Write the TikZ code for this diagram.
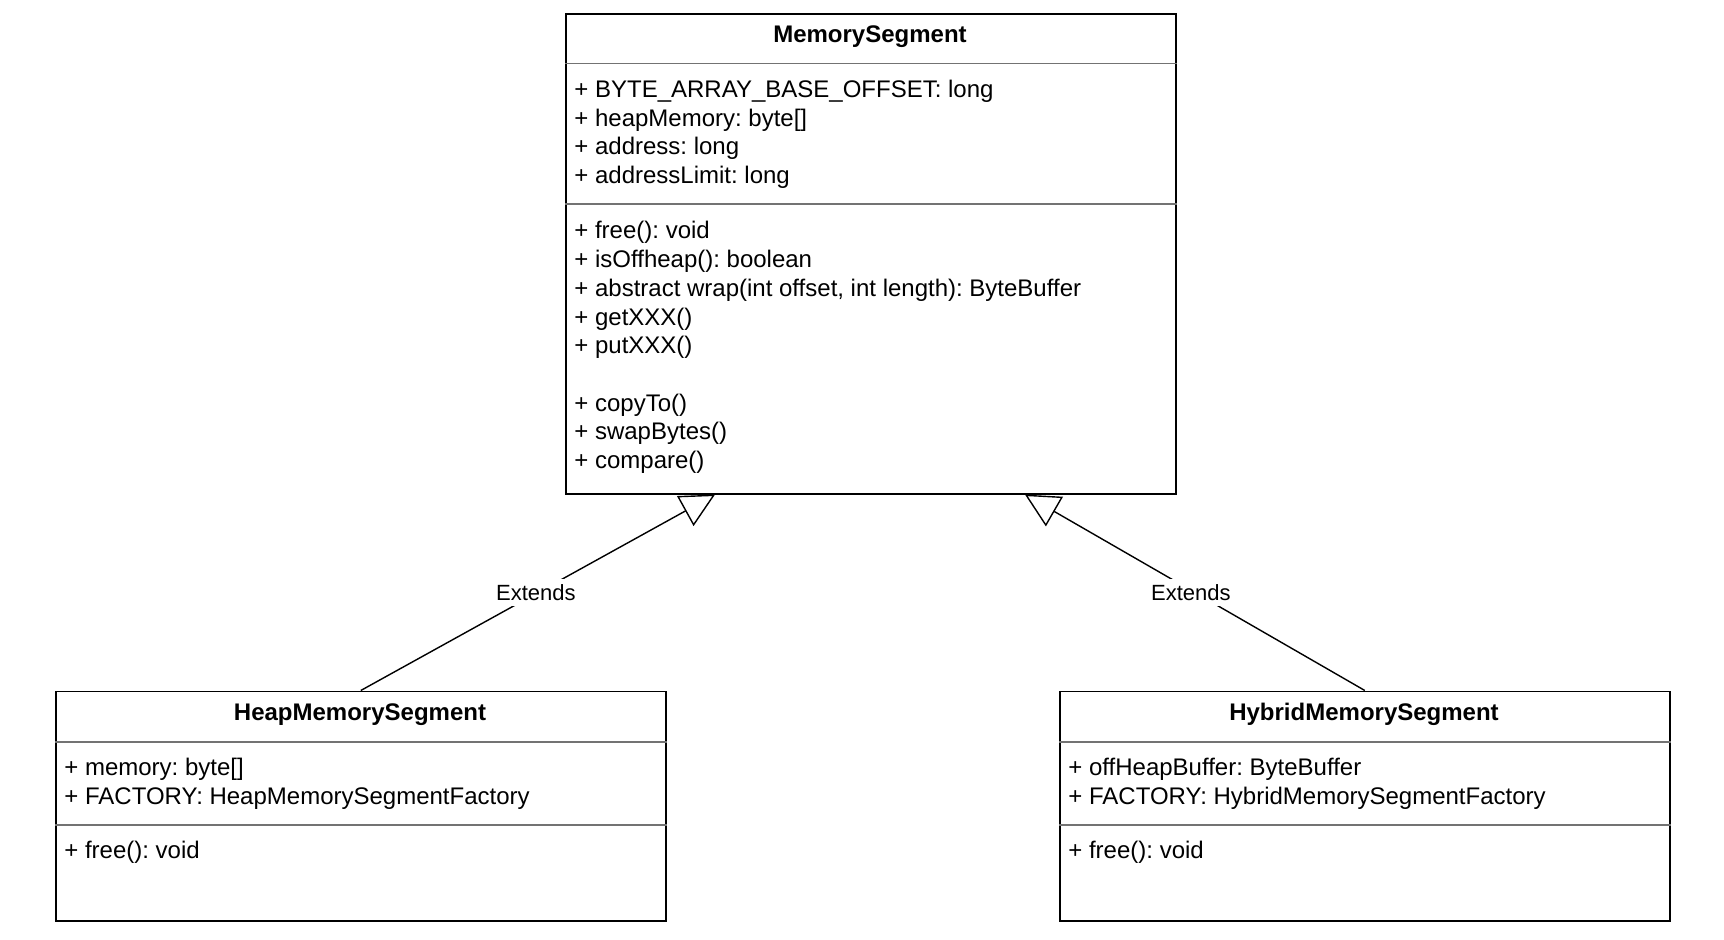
\documentclass[tikz,border=0pt]{standalone}
\usepackage{fontspec}
\setmainfont{Liberation Sans}
\frenchspacing
\usepackage{tikz}
\usetikzlibrary{arrows.meta, positioning}
\tikzset{>={Triangle[open, length=17pt, width=17pt]}}

\begin{document}
\begin{tikzpicture}[x=0.5pt, y=-0.5pt,
        font=\fontsize{12}{14.3}\selectfont,
        classbox/.style={draw, line width=0.8pt, inner sep=0pt, minimum width=305pt, anchor=north west},
        sepline/.style={draw=black!55, line width=0.6pt},
        member/.style={anchor=base west, inner sep=0pt},
        classname/.style={anchor=base, inner sep=0pt, font=\fontsize{12}{14.3}\selectfont\bfseries},
        extends/.style={->, line width=0.7pt},
        lbl/.style={fill=white, inner sep=2.5pt, font=\fontsize{11}{13}\selectfont}]
        \useasboundingbox (0,0) rectangle (1724,940);

        \node[classbox, minimum height=240pt] (mem) at (565,13) {};
        \node[classbox, minimum height=114.75pt] (heap) at (55,690.5) {};
        \node[classbox, minimum height=114.75pt] (hybrid) at (1059,690.5) {};

        \node[classname] (memname) at (870,43) {MemorySegment};
        \node[classname] (heapname) at (360,720.5) {HeapMemorySegment};
        \node[classname] (hybridname) at (1364,720.5) {HybridMemorySegment};

        \draw[sepline] ([yshift=-25.25pt]mem.north west) -- ([yshift=-25.25pt]mem.north east);
        \draw[sepline] ([yshift=-95.5pt]mem.north west) -- ([yshift=-95.5pt]mem.north east);
        \foreach \cls in {heap, hybrid}
        {
            \draw[sepline] ([yshift=-25.75pt]\cls.north west) -- ([yshift=-25.75pt]\cls.north east);
            \draw[sepline] ([yshift=-67.25pt]\cls.north west) -- ([yshift=-67.25pt]\cls.north east);
        }

        \foreach \txt [count=\i from 0] in {{+ BYTE\_ARRAY\_BASE\_OFFSET: long}, {+ heapMemory: byte[]}, {+ address: long}, {+ addressLimit: long}}
        {
            \node[member] (memattr\i) at (574,97.5+28.6*\i) {\txt};
        }
        \foreach \txt/\k in {{+ free(): void}/0, {+ isOffheap(): boolean}/1, {+ abstract wrap(int offset, int length): ByteBuffer}/2, {+ getXXX()}/3, {+ putXXX()}/4, {+ copyTo()}/6, {+ swapBytes()}/7, {+ compare()}/8}
        {
            \node[member] (memop\k) at (574,239+28.7*\k) {\txt};
        }

        \node[member] (heapattr0) at (64,775) {+ memory: byte[]};
        \node[member] (heapattr1) at (64,804) {+ FACTORY: HeapMemorySegmentFactory};
        \node[member] (heapop0) at (64,858) {+ free(): void};

        \node[member] (hybridattr0) at (1068,775) {+ offHeapBuffer: ByteBuffer};
        \node[member] (hybridattr1) at (1068,804) {+ FACTORY: HybridMemorySegmentFactory};
        \node[member] (hybridop0) at (1068,858) {+ free(): void};

        \coordinate (tipL) at ([xshift=75pt]mem.south west);
        \coordinate (tipR) at ([xshift=230pt]mem.south west);
        \draw[extends] (heap.north) -- node[lbl, xshift=-1pt] (extL) {Extends} (tipL);
        \draw[extends] (hybrid.north) -- node[lbl, xshift=-2pt] (extR) {Extends} (tipR);
    \end{tikzpicture}
\end{document}
